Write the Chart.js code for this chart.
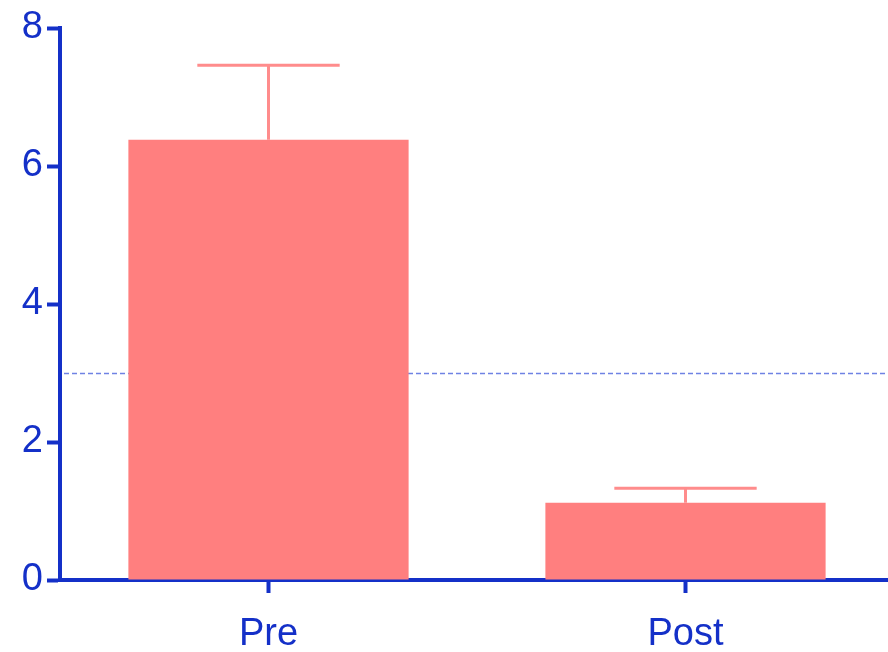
<!DOCTYPE html>
<html>
<head>
<meta charset="utf-8">
<script src="https://cdn.jsdelivr.net/npm/chart.js@4"></script>
<style>
  html, body { margin: 0; padding: 0; background: #ffffff; overflow: hidden; }
  #wrap { width: 894px; height: 652px; }
</style>
</head>
<body>
<div id="wrap"><canvas id="c" width="894" height="652"></canvas></div>
<script>
// Groups and their means
const categories = ['Pre', 'Post'];
const means = [6.38, 1.12];
// Upper error (SEM) added above each mean
const errors = [1.08, 0.21];
// Horizontal reference level
const referenceLevel = [3.0];
// Y axis ticks
const yTicks = [0, 2, 4, 6, 8];

const AXIS_BLUE = '#1430c8';
const BAR_RED = '#ff7f7f';
const ERR_RED = '#ff8c8c';
const FONT = '"Liberation Sans", Arial, sans-serif';

const refLinePlugin = {
  id: 'refLine',
  beforeDatasetsDraw(chart) {
    const { ctx, chartArea, scales } = chart;
    const y = scales.y.getPixelForValue(referenceLevel[0]);
    ctx.save();
    ctx.strokeStyle = '#6f82e4';
    ctx.lineWidth = 1.5;
    ctx.setLineDash([5, 3]);
    ctx.beginPath();
    ctx.moveTo(chartArea.left + 4, Math.round(y) + 0.5);
    ctx.lineTo(chart.width, Math.round(y) + 0.5);
    ctx.stroke();
    ctx.restore();
  }
};

const errorBarPlugin = {
  id: 'errorBars',
  afterDatasetsDraw(chart) {
    const { ctx, scales } = chart;
    const meta = chart.getDatasetMeta(0);
    ctx.save();
    ctx.strokeStyle = ERR_RED;
    ctx.lineWidth = 3;
    meta.data.forEach((bar, i) => {
      const x = bar.x;
      const yTop = scales.y.getPixelForValue(means[i] + errors[i]);
      const yBase = scales.y.getPixelForValue(means[i]);
      const half = bar.width * 0.254;
      ctx.beginPath();
      ctx.moveTo(x, yBase);
      ctx.lineTo(x, yTop);
      ctx.moveTo(x - half, yTop);
      ctx.lineTo(x + half, yTop);
      ctx.stroke();
    });
    ctx.restore();
  }
};

new Chart(document.getElementById('c'), {
  type: 'bar',
  data: {
    labels: categories,
    datasets: [{
      data: means,
      backgroundColor: BAR_RED,
      borderWidth: 0,
      categoryPercentage: 1.0,
      barPercentage: 0.672
    }]
  },
  options: {
    responsive: false,
    animation: false,
    devicePixelRatio: 1,
    layout: { padding: { top: 28, right: 0, left: 0, bottom: 0 } },
    plugins: {
      legend: { display: false },
      tooltip: { enabled: false }
    },
    scales: {
      x: {
        offset: true,
        afterFit(scale) { scale.height = 72; },
        border: { display: true, color: AXIS_BLUE, width: 4 },
        grid: {
          offset: false,
          drawOnChartArea: false,
          drawTicks: true,
          tickLength: 13,
          tickWidth: 4,
          tickColor: AXIS_BLUE,
          color: AXIS_BLUE
        },
        ticks: {
          color: AXIS_BLUE,
          padding: 19,
          font: { family: FONT, size: 38 }
        }
      },
      y: {
        min: 0,
        max: 8,
        afterFit(scale) { scale.width = 60; },
        afterBuildTicks(scale) { scale.ticks = yTicks.map(v => ({ value: v })); },
        border: { display: true, color: AXIS_BLUE, width: 4 },
        grid: {
          drawOnChartArea: false,
          drawTicks: true,
          tickLength: 13,
          tickWidth: 4,
          tickColor: AXIS_BLUE,
          color: AXIS_BLUE
        },
        ticks: {
          color: AXIS_BLUE,
          padding: 4,
          font: { family: FONT, size: 38 }
        }
      }
    }
  },
  plugins: [refLinePlugin, errorBarPlugin]
});
</script>
</body>
</html>
